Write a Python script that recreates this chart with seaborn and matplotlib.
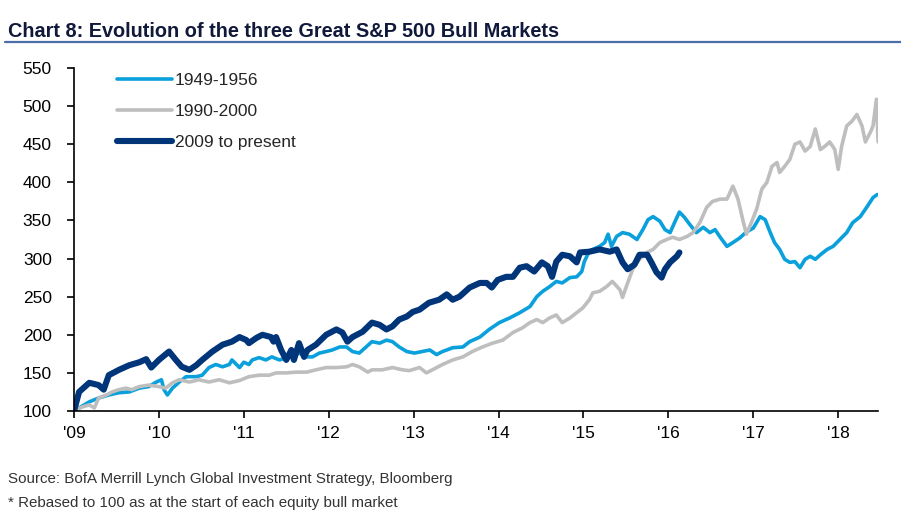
import pandas as pd
import matplotlib.pyplot as plt
import seaborn as sns
from matplotlib.lines import Line2D

# years since the start of each bull market, index rebased to 100
x_4956 = [0.00, 0.06, 0.18, 0.29, 0.41, 0.53, 0.65, 0.77, 0.88, 0.97, 1.03, 1.06, 1.10, 1.16, 1.24, 1.32,
          1.44, 1.51, 1.59, 1.67, 1.75, 1.83, 1.86, 1.95, 2.00, 2.06, 2.10, 2.18, 2.26, 2.33, 2.42, 2.54,
          2.65, 2.74, 2.81, 2.89, 2.97, 3.04, 3.13, 3.21, 3.28, 3.36, 3.44, 3.51, 3.60, 3.68, 3.75, 3.83,
          3.92, 4.01, 4.10, 4.19, 4.27, 4.34, 4.46, 4.58, 4.66, 4.78, 4.89, 5.01, 5.13, 5.25, 5.37, 5.45,
          5.52, 5.60, 5.68, 5.75, 5.84, 5.92, 5.98, 6.01, 6.07, 6.19, 6.25, 6.29, 6.33, 6.39, 6.46, 6.54,
          6.63, 6.70, 6.76, 6.82, 6.90, 6.96, 7.02, 7.08, 7.13, 7.19, 7.25, 7.33, 7.41, 7.49, 7.55, 7.61,
          7.69, 7.76, 7.84, 7.92, 8.00, 8.08, 8.14, 8.20, 8.25, 8.31, 8.37, 8.43, 8.49, 8.55, 8.61, 8.67,
          8.73, 8.79, 8.87, 8.94, 9.02, 9.10, 9.17, 9.26, 9.34, 9.41, 9.46]
y_4956 = [100, 104, 112, 117, 121, 124, 125, 130, 132, 138, 141, 128, 121, 130, 138, 145,
          145, 147, 157, 161, 158, 161, 167, 157, 164, 161, 167, 170, 167, 171, 167, 171,
          176, 171, 171, 176, 178, 180, 184, 184, 178, 176, 184, 191, 189, 193, 191, 184,
          178, 176, 178, 180, 174, 178, 183, 184, 191, 197, 207, 216, 222, 229, 237, 250,
          257, 263, 270, 268, 275, 276, 283, 296, 310, 316, 321, 332, 316, 329, 334, 332,
          325, 338, 351, 355, 349, 338, 334, 349, 361, 354, 345, 334, 341, 334, 338, 328,
          316, 321, 327, 335, 340, 355, 351, 334, 321, 312, 299, 295, 296, 288, 299, 303,
          299, 305, 312, 316, 325, 334, 347, 355, 368, 380, 384]

x_9000 = [0.00, 0.09, 0.18, 0.24, 0.29, 0.38, 0.45, 0.53, 0.61, 0.68, 0.77, 0.88, 1.00, 1.08, 1.16, 1.24,
          1.36, 1.47, 1.59, 1.71, 1.83, 1.95, 2.06, 2.18, 2.30, 2.38, 2.50, 2.62, 2.74, 2.85, 2.97, 3.09,
          3.21, 3.28, 3.36, 3.46, 3.51, 3.63, 3.75, 3.87, 3.95, 4.07, 4.15, 4.22, 4.34, 4.46, 4.58, 4.69,
          4.81, 4.93, 5.05, 5.17, 5.28, 5.37, 5.45, 5.52, 5.60, 5.68, 5.75, 5.84, 5.92, 5.99, 6.07, 6.11,
          6.19, 6.27, 6.34, 6.43, 6.46, 6.52, 6.58, 6.66, 6.75, 6.82, 6.90, 6.98, 7.05, 7.13, 7.22, 7.29,
          7.37, 7.45, 7.52, 7.61, 7.69, 7.76, 7.82, 7.88, 7.92, 7.98, 8.04, 8.10, 8.16, 8.22, 8.28, 8.31,
          8.37, 8.43, 8.49, 8.55, 8.61, 8.67, 8.73, 8.79, 8.84, 8.90, 8.96, 9.00, 9.04, 9.10, 9.16, 9.22,
          9.28, 9.32, 9.38, 9.41, 9.45, 9.47]
y_9000 = [100, 105, 108, 104, 117, 121, 125, 128, 130, 128, 132, 134, 132, 130, 137, 141,
          138, 141, 138, 141, 137, 140, 145, 147, 147, 150, 150, 151, 151, 154, 157, 157,
          158, 161, 158, 151, 154, 154, 157, 154, 153, 157, 150, 154, 161, 167, 171, 178,
          184, 189, 193, 203, 209, 216, 220, 216, 222, 226, 216, 222, 229, 235, 246, 255,
          257, 263, 270, 259, 249, 268, 286, 299, 308, 312, 321, 325, 328, 325, 329, 334,
          347, 367, 375, 378, 378, 395, 378, 349, 332, 348, 365, 391, 400, 421, 426, 413,
          421, 430, 450, 453, 441, 447, 470, 443, 447, 453, 443, 417, 447, 474, 480, 489,
          474, 453, 466, 474, 509, 453]

x_2009 = [0.00, 0.06, 0.18, 0.29, 0.35, 0.41, 0.53, 0.65, 0.77, 0.85, 0.91, 1.00, 1.12, 1.20, 1.27, 1.36,
          1.44, 1.51, 1.63, 1.75, 1.86, 1.95, 2.03, 2.06, 2.15, 2.22, 2.32, 2.35, 2.38, 2.44, 2.50, 2.56,
          2.59, 2.65, 2.71, 2.75, 2.85, 2.97, 3.09, 3.16, 3.22, 3.28, 3.40, 3.51, 3.60, 3.68, 3.75, 3.83,
          3.92, 3.99, 4.07, 4.18, 4.30, 4.39, 4.46, 4.54, 4.66, 4.78, 4.86, 4.92, 4.99, 5.09, 5.17, 5.25,
          5.33, 5.42, 5.51, 5.58, 5.63, 5.68, 5.75, 5.84, 5.92, 5.96, 6.07, 6.19, 6.31, 6.39, 6.46, 6.52,
          6.60, 6.66, 6.75, 6.80, 6.86, 6.92, 6.96, 7.02, 7.10, 7.13]
y_2009 = [100, 125, 137, 134, 128, 147, 154, 160, 164, 168, 157, 167, 178, 167, 158, 154,
          160, 167, 178, 187, 191, 197, 193, 189, 196, 200, 197, 191, 197, 180, 167, 180,
          167, 189, 171, 180, 187, 200, 207, 203, 191, 197, 204, 216, 213, 207, 211, 220,
          224, 230, 233, 242, 246, 253, 246, 250, 262, 268, 268, 262, 272, 276, 276, 288,
          290, 283, 295, 290, 276, 296, 305, 303, 295, 308, 309, 312, 309, 312, 295, 286,
          292, 305, 305, 295, 282, 275, 286, 295, 303, 308]

series_names = ['1949-1956', '1990-2000', '2009 to present']
year_labels = ["'09", "'10", "'11", "'12", "'13", "'14", "'15", "'16", "'17", "'18"]
y_ticks = [100, 150, 200, 250, 300, 350, 400, 450, 500, 550]

df = pd.concat([
    pd.DataFrame({'t': x_4956, 'v': y_4956, 'market': series_names[0]}),
    pd.DataFrame({'t': x_9000, 'v': y_9000, 'market': series_names[1]}),
    pd.DataFrame({'t': x_2009, 'v': y_2009, 'market': series_names[2]}),
])

colors = {'1949-1956': '#0AA0DC', '1990-2000': '#BEBEBE', '2009 to present': '#00357A'}
widths = {'1949-1956': 2.6, '1990-2000': 2.6, '2009 to present': 4.4}

sns.set_style('ticks')
plt.rcParams['font.family'] = ['Liberation Sans', 'DejaVu Sans']

fig = plt.figure(figsize=(9.01, 5.28), dpi=100)
ax = fig.add_axes([0.0821, 0.2216, 0.8925, 0.6496])

for name in series_names:
    sns.lineplot(data=df[df['market'] == name], x='t', y='v', color=colors[name],
                 lw=widths[name], ax=ax, legend=False, estimator=None, sort=False,
                 solid_capstyle='round', solid_joinstyle='round')

ax.set_xlim(0, 9.47)
ax.set_ylim(100, 550)
ax.set_xticks(range(len(year_labels)))
ax.set_xticklabels(year_labels)
ax.set_yticks(y_ticks)
ax.set_xlabel('')
ax.set_ylabel('')
ax.tick_params(axis='both', labelsize=12.5, length=5, width=1.2, color='black', labelcolor='black')
ax.tick_params(axis='y', pad=11)
ax.tick_params(axis='x', pad=6)
for s in ['top', 'right']:
    ax.spines[s].set_visible(False)
for s in ['left', 'bottom']:
    ax.spines[s].set_color('black')
    ax.spines[s].set_linewidth(1.2)

handles = [Line2D([0], [0], color=colors[n], lw=widths[n], solid_capstyle='round') for n in series_names]
ax.legend(handles, series_names, loc='upper left', bbox_to_anchor=(0.034, 1.03), frameon=False,
          fontsize=12.5, handlelength=3.2, handletextpad=0.15, labelspacing=0.9)

# title with rule underneath
fig.text(0.009, 0.93, 'Chart 8: Evolution of the three Great S&P 500 Bull Markets',
         fontsize=14.3, fontweight='bold', color='#10193A', ha='left', va='baseline')
fig.add_artist(Line2D([0.006, 1.0], [0.92, 0.92], color='#4A6FA8', lw=1.6))

fig.text(0.009, 0.085, 'Source: BofA Merrill Lynch Global Investment Strategy, Bloomberg',
         fontsize=10.9, color='#333333', ha='left', va='baseline')
fig.text(0.009, 0.040, '* Rebased to 100 as at the start of each equity bull market',
         fontsize=10.9, color='#333333', ha='left', va='baseline')

fig.savefig('out.png', dpi=100)
